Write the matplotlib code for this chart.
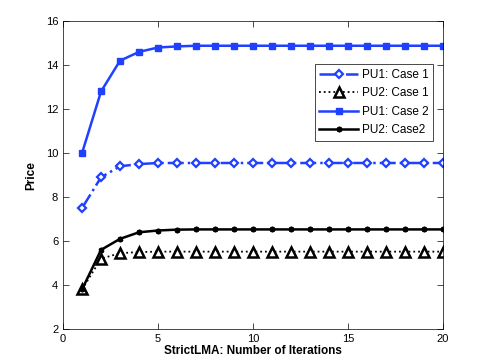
import matplotlib
matplotlib.use('Agg')
import matplotlib.pyplot as plt
import numpy as np

iters = np.arange(1, 21)
pu1_case1 = [7.5, 8.9, 9.4, 9.5, 9.55, 9.55, 9.55, 9.55, 9.55, 9.55,
             9.55, 9.55, 9.55, 9.55, 9.55, 9.55, 9.55, 9.55, 9.55, 9.55]
pu2_case1 = [3.8, 5.2, 5.45, 5.5, 5.52, 5.52, 5.52, 5.52, 5.52, 5.52,
             5.52, 5.52, 5.52, 5.52, 5.52, 5.52, 5.52, 5.52, 5.52, 5.52]
pu1_case2 = [10.0, 12.8, 14.2, 14.6, 14.8, 14.85, 14.88, 14.88, 14.88, 14.88,
             14.88, 14.88, 14.88, 14.88, 14.88, 14.88, 14.88, 14.88, 14.88, 14.88]
pu2_case2 = [3.8, 5.6, 6.1, 6.4, 6.48, 6.52, 6.53, 6.53, 6.53, 6.53,
             6.53, 6.53, 6.53, 6.53, 6.53, 6.53, 6.53, 6.53, 6.53, 6.53]

plt.rcParams['font.family'] = ['Liberation Sans', 'DejaVu Sans']
plt.rcParams['font.size'] = 8

blue = '#2040ff'
fig = plt.figure(figsize=(4.85, 3.64), dpi=100)
ax = fig.add_axes([0.13, 0.096, 0.783, 0.846])

ax.plot(iters, pu1_case1, '-.', color=blue, lw=1.8, marker='D', ms=4.5,
        mfc='white', mec=blue, mew=1.6, label='PU1: Case 1')
ax.plot(iters, pu2_case1, ':', color='black', lw=1.3, marker='^', ms=6.5,
        mfc='white', mec='black', mew=1.8, label='PU2: Case 1')
ax.plot(iters, pu1_case2, '-', color=blue, lw=1.8, marker='s', ms=4.5,
        mfc=blue, mec=blue, label='PU1: Case 2')
ax.plot(iters, pu2_case2, '-', color='black', lw=1.8, marker=(6, 2, 0), ms=4,
        mec='black', mew=1.4, label='PU2: Case2')

ax.set_xlim(0, 20)
ax.set_ylim(2, 16)
ax.set_xticks([0, 5, 10, 15, 20])
ax.set_yticks(range(2, 17, 2))
ax.tick_params(direction='in', top=True, right=True, length=4, width=0.5)
for s in ax.spines.values():
    s.set_linewidth(0.5)

ax.set_xlabel('StrictLMA: Number of Iterations', fontweight='bold', fontsize=8.5, labelpad=1)
ax.set_ylabel('Price', fontweight='bold', fontsize=8.5, labelpad=6)

leg = ax.legend(loc='upper right', bbox_to_anchor=(0.975, 0.86), fancybox=False,
                edgecolor='black', framealpha=1, fontsize=8.5, handlelength=3.3,
                borderpad=0.4, labelspacing=0.55, handletextpad=0.3,
                borderaxespad=0)
leg.get_frame().set_linewidth(0.5)

plt.savefig('out.png', dpi=100)
